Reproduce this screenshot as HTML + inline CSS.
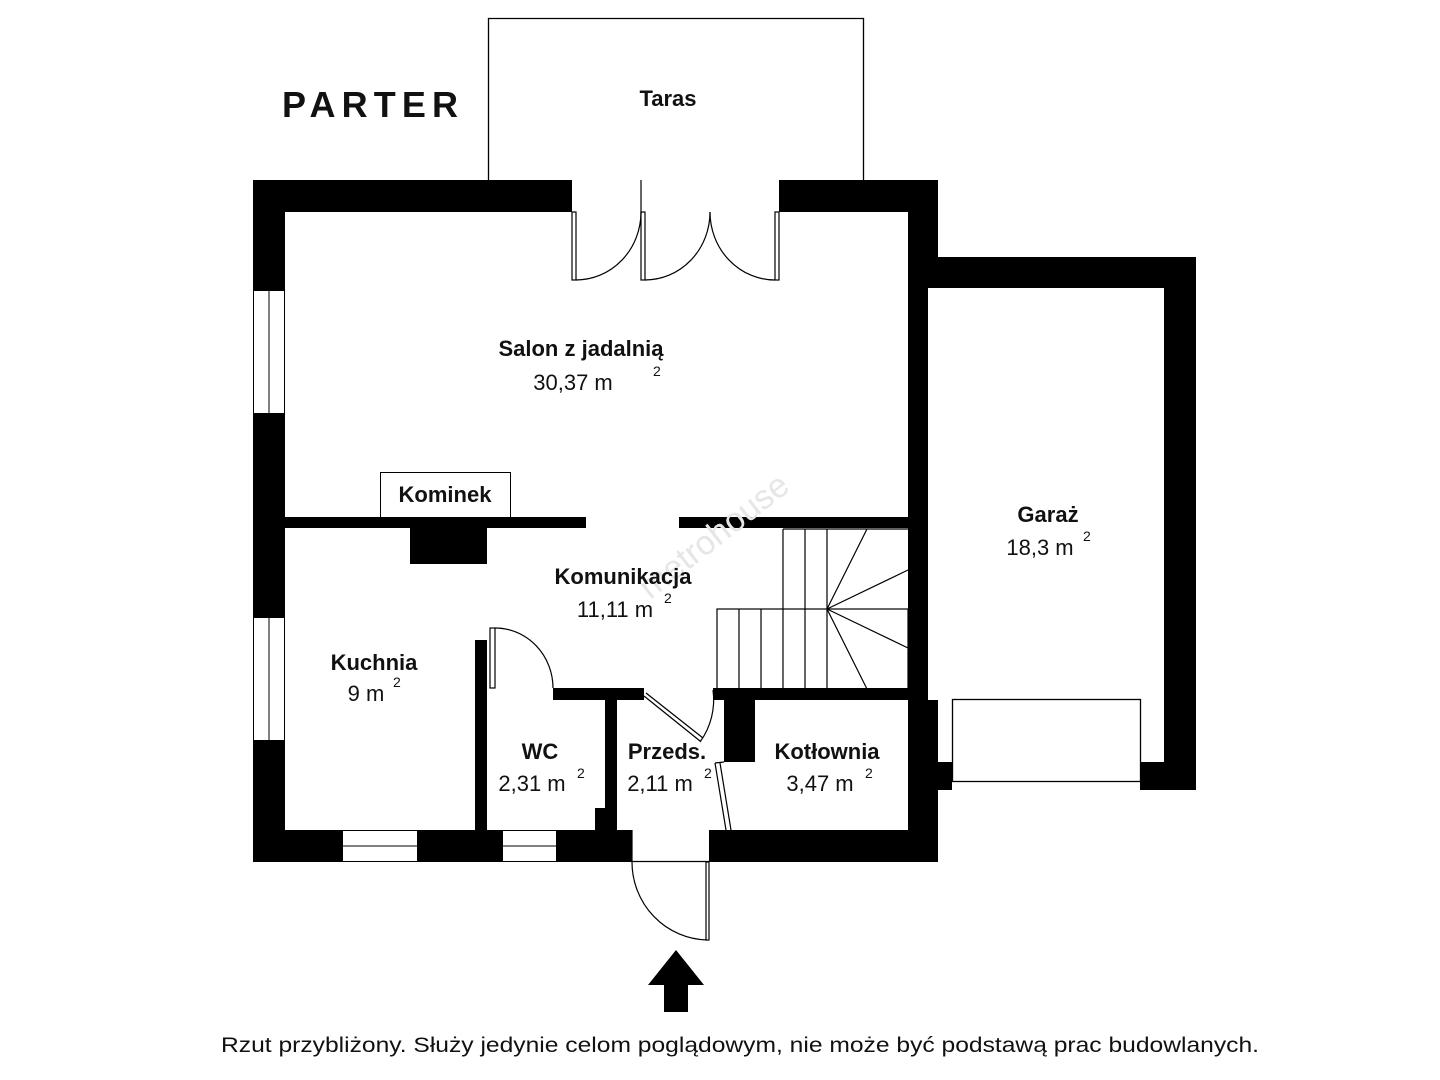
<!DOCTYPE html>
<html><head><meta charset="utf-8"><style>
html,body{margin:0;padding:0;background:#fff;}
svg{display:block;}
text{font-family:"Liberation Sans",sans-serif;fill:#111;}
.b{font-weight:bold;font-size:22px;}
.n{font-size:22px;}
.s{font-size:14px;}
</style></head><body>
<svg width="1440" height="1080" viewBox="0 0 1440 1080" xmlns="http://www.w3.org/2000/svg">
<!-- Taras -->
<path d="M488.5 180 V18.5 H863.5 V180" fill="none" stroke="#000" stroke-width="1.3"/>
<text x="668" y="106" class="b" text-anchor="middle">Taras</text>
<text x="282" y="117" font-weight="bold" font-size="36" textLength="176" lengthAdjust="spacing">PARTER</text>

<g fill="#000">
<rect x="253" y="180" width="319" height="32"/>
<rect x="779" y="180" width="159" height="32"/>
<rect x="253" y="180" width="32" height="682"/>
<rect x="908" y="180" width="30" height="82"/>
<rect x="908" y="257" width="20" height="533"/>
<rect x="908" y="762" width="44" height="28"/>
<rect x="920" y="257" width="276" height="31"/>
<rect x="1164" y="257" width="32" height="533"/>
<rect x="1140" y="762" width="56" height="28"/>
<rect x="253" y="830" width="379" height="32"/>
<rect x="709" y="830" width="229" height="32"/>
<rect x="908" y="700" width="30" height="162"/>
<rect x="285" y="517" width="301" height="11"/>
<rect x="679" y="517" width="229" height="11"/>
<rect x="410" y="527" width="77" height="37"/>
<rect x="475" y="640" width="12" height="190"/>
<rect x="553" y="688" width="91" height="12"/>
<rect x="605" y="700" width="12" height="130"/>
<rect x="595" y="808" width="22" height="22"/>
<rect x="713" y="688" width="195" height="12"/>
<rect x="724" y="700" width="31" height="62"/>
</g>
<g fill="#fff" stroke="#000" stroke-width="1">
<rect x="253.5" y="290.5" width="31" height="123"/>
<rect x="253.5" y="617.5" width="31" height="123"/>
<rect x="342.5" y="830.5" width="75" height="31"/>
<rect x="502.5" y="830.5" width="54" height="31"/>
</g>
<g stroke="#000" stroke-width="1">
<line x1="269" y1="290" x2="269" y2="413"/>
<line x1="269" y1="617" x2="269" y2="740"/>
<line x1="342" y1="846" x2="417" y2="846"/>
<line x1="502" y1="846" x2="556" y2="846"/>
</g>
<rect x="380.5" y="472.5" width="130" height="45" fill="#fff" stroke="#000"/>
<text x="445" y="502" class="b" text-anchor="middle">Kominek</text>
<rect x="952.5" y="699.5" width="188" height="82" fill="#fff" stroke="#000" stroke-width="1.3"/>

<g fill="#fff" stroke="#000" stroke-width="1.2">
<rect x="572" y="212" width="4" height="68"/>
<rect x="641" y="212" width="4" height="68"/>
<rect x="775" y="212" width="4" height="68"/>
<rect x="490" y="628" width="5" height="60"/>
</g>
<g fill="none" stroke="#000" stroke-width="1.2">
<line x1="641" y1="180" x2="641" y2="214"/>
<path d="M576 280 A65 68 0 0 0 641 212"/>
<path d="M645 280 A65 68 0 0 0 710 212"/>
<path d="M775 280 A65 68 0 0 1 710 212"/>
<path d="M495 628 A58 60 0 0 1 553 688"/>
<path d="M644 696 L700 741 M646 693 L703 738"/>
<path d="M700 742 A72 72 0 0 0 713 690"/>
<path d="M715 763 L726 830 M720 763 L731 830"/>
<line x1="715" y1="763" x2="724" y2="762"/>
<line x1="632" y1="830" x2="632" y2="862"/>
<line x1="632" y1="861.5" x2="709" y2="861.5"/>
<rect x="706" y="862" width="3" height="78" fill="#fff"/>
<path d="M632 862 A77 78 0 0 0 707 940"/>
<rect x="717" y="609" width="191" height="80"/>
<path d="M783 529 V689 M805 529 V689 M827 529 V689 M739 609 V689 M761 609 V689 M783 529 H908"/>
<path d="M827 609 L867 529 M827 609 L908 570 M827 609 L908 648 M827 609 L867 689"/>
</g>

<text x="650" y="600" font-size="34" style="fill:#e6e6e6" transform="rotate(-38 650 600)">metrohouse</text>

<text x="581" y="356" class="b" text-anchor="middle">Salon z jadalnią</text>
<text x="573" y="390" class="n" text-anchor="middle">30,37 m</text><text x="653" y="376" class="s">2</text>
<text x="1048" y="522" class="b" text-anchor="middle">Garaż</text>
<text x="1040" y="555" class="n" text-anchor="middle">18,3 m</text><text x="1083" y="541" class="s">2</text>
<text x="623" y="584" class="b" text-anchor="middle">Komunikacja</text>
<text x="615" y="617" class="n" text-anchor="middle">11,11 m</text><text x="664" y="603" class="s">2</text>
<text x="374" y="670" class="b" text-anchor="middle">Kuchnia</text>
<text x="366" y="701" class="n" text-anchor="middle">9 m</text><text x="393" y="687" class="s">2</text>
<text x="540" y="759" class="b" text-anchor="middle">WC</text>
<text x="532" y="791" class="n" text-anchor="middle">2,31 m</text><text x="577" y="778" class="s">2</text>
<text x="667" y="759" class="b" text-anchor="middle">Przeds.</text>
<text x="660" y="791" class="n" text-anchor="middle">2,11 m</text><text x="704" y="778" class="s">2</text>
<text x="827" y="759" class="b" text-anchor="middle">Kotłownia</text>
<text x="820" y="791" class="n" text-anchor="middle">3,47 m</text><text x="865" y="778" class="s">2</text>

<path d="M676 950 L704 985 L688 985 L688 1012 L664 1012 L664 985 L648 985 Z" fill="#000"/>
<text x="740" y="1052" font-size="21" text-anchor="middle" textLength="1038" lengthAdjust="spacingAndGlyphs">Rzut przybliżony. Służy jedynie celom poglądowym, nie może być podstawą prac budowlanych.</text>
</svg>
</body></html>
